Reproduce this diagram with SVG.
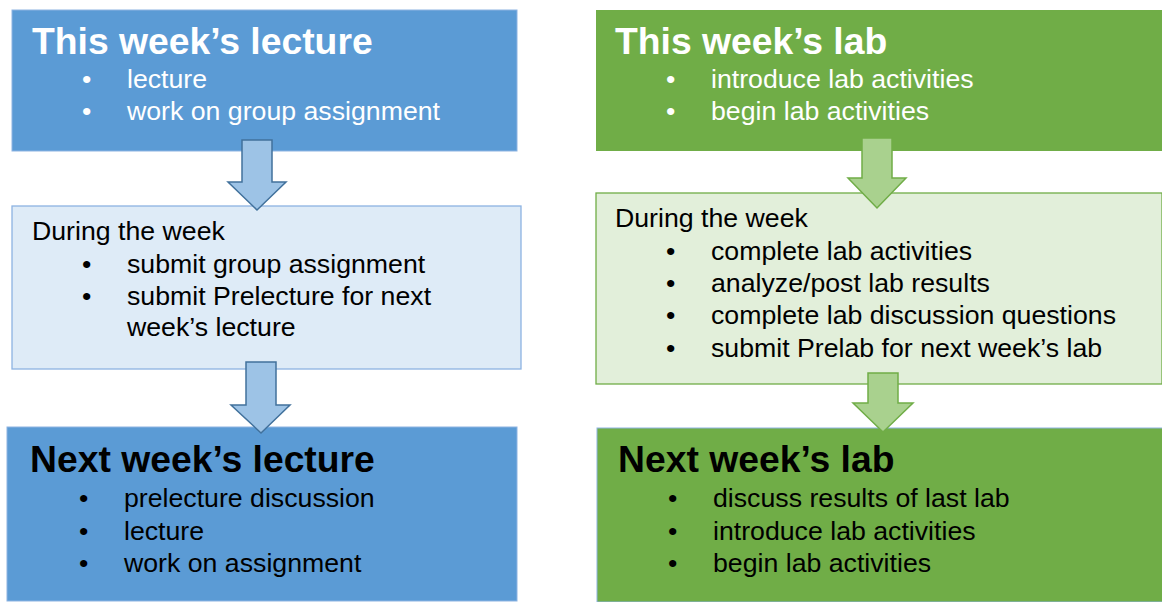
<svg xmlns="http://www.w3.org/2000/svg" width="1162" height="602" viewBox="0 0 1162 602">
<style>
text{font-family:"Liberation Sans",Arial,sans-serif;}
.t{font-size:37.3px;font-weight:bold;}
.b{font-size:26.7px;}
.w{fill:#ffffff;}
.k{fill:#000000;}
.blue{fill:#5B9BD5;stroke:#8DB3E2;stroke-width:1;}
.lblue{fill:#DEEBF7;stroke:#8DB3E2;stroke-width:1.3;}
.green{fill:#70AD47;stroke:#8DB3E2;stroke-width:1;}
.lgreen{fill:#E2EFDA;stroke:#70AD47;stroke-width:1.3;}
.ab{fill:#9DC3E6;stroke:#41719C;stroke-width:1.5;}
.ag{fill:#A9D18E;stroke:#70AD47;stroke-width:1.5;}
</style>
<g id="this-lecture">
<rect class="blue" x="12" y="10" width="505" height="141"/>
<text class="t w" x="32" y="54">This week’s lecture</text>
<text class="b w" x="82" y="88">•</text><text class="b w" x="127" y="88">lecture</text>
<text class="b w" x="82" y="120">•</text><text class="b w" x="127" y="120">work on group assignment</text>
</g>
<g id="during-lecture">
<rect class="lblue" x="12" y="206" width="509" height="163"/>
<text class="b k" x="32" y="240">During the week</text>
<text class="b k" x="82" y="273">•</text><text class="b k" x="127" y="273">submit group assignment</text>
<text class="b k" x="82" y="305">•</text><text class="b k" x="127" y="305">submit Prelecture for next</text>
<text class="b k" x="127" y="336">week’s lecture</text>
</g>
<g id="next-lecture">
<rect class="blue" x="7" y="427" width="510" height="174"/>
<text class="t k" x="30" y="472">Next week’s lecture</text>
<text class="b k" x="79" y="507">•</text><text class="b k" x="124" y="507">prelecture discussion</text>
<text class="b k" x="79" y="540">•</text><text class="b k" x="124" y="540">lecture</text>
<text class="b k" x="79" y="572">•</text><text class="b k" x="124" y="572">work on assignment</text>
</g>
<g id="this-lab">
<rect class="green" x="596" y="10" width="566" height="141" style="stroke:none"/>
<text class="t w" x="615" y="54">This week’s lab</text>
<text class="b w" x="666" y="88">•</text><text class="b w" x="711" y="88">introduce lab activities</text>
<text class="b w" x="666" y="120">•</text><text class="b w" x="711" y="120">begin lab activities</text>
</g>
<g id="during-lab">
<rect class="lgreen" x="596" y="193" width="566" height="191"/>
<text class="b k" x="615" y="227">During the week</text>
<text class="b k" x="666" y="260">•</text><text class="b k" x="711" y="260">complete lab activities</text>
<text class="b k" x="666" y="292">•</text><text class="b k" x="711" y="292">analyze/post lab results</text>
<text class="b k" x="666" y="324">•</text><text class="b k" x="711" y="324">complete lab discussion questions</text>
<text class="b k" x="666" y="357">•</text><text class="b k" x="711" y="357">submit Prelab for next week’s lab</text>
</g>
<g id="next-lab">
<rect class="green" x="597" y="428" width="566" height="174"/>
<text class="t k" x="618" y="472">Next week’s lab</text>
<text class="b k" x="668" y="507">•</text><text class="b k" x="713" y="507">discuss results of last lab</text>
<text class="b k" x="668" y="540">•</text><text class="b k" x="713" y="540">introduce lab activities</text>
<text class="b k" x="668" y="572">•</text><text class="b k" x="713" y="572">begin lab activities</text>
</g>
<g id="connectors">
<path class="ab" d="M242,140 H272 V182 H286 L257,210 L228,182 H242 Z"/>
<path class="ab" d="M246,362 H276 V405 H290 L261,433 L231,405 H246 Z"/>
<path class="ag" d="M862,138 H892 V178 H906 L877,208 L848,178 H862 Z"/>
<path class="ag" d="M868,373 H898 V403 H913 L883,432 L853,403 H868 Z"/>
</g>
</svg>
